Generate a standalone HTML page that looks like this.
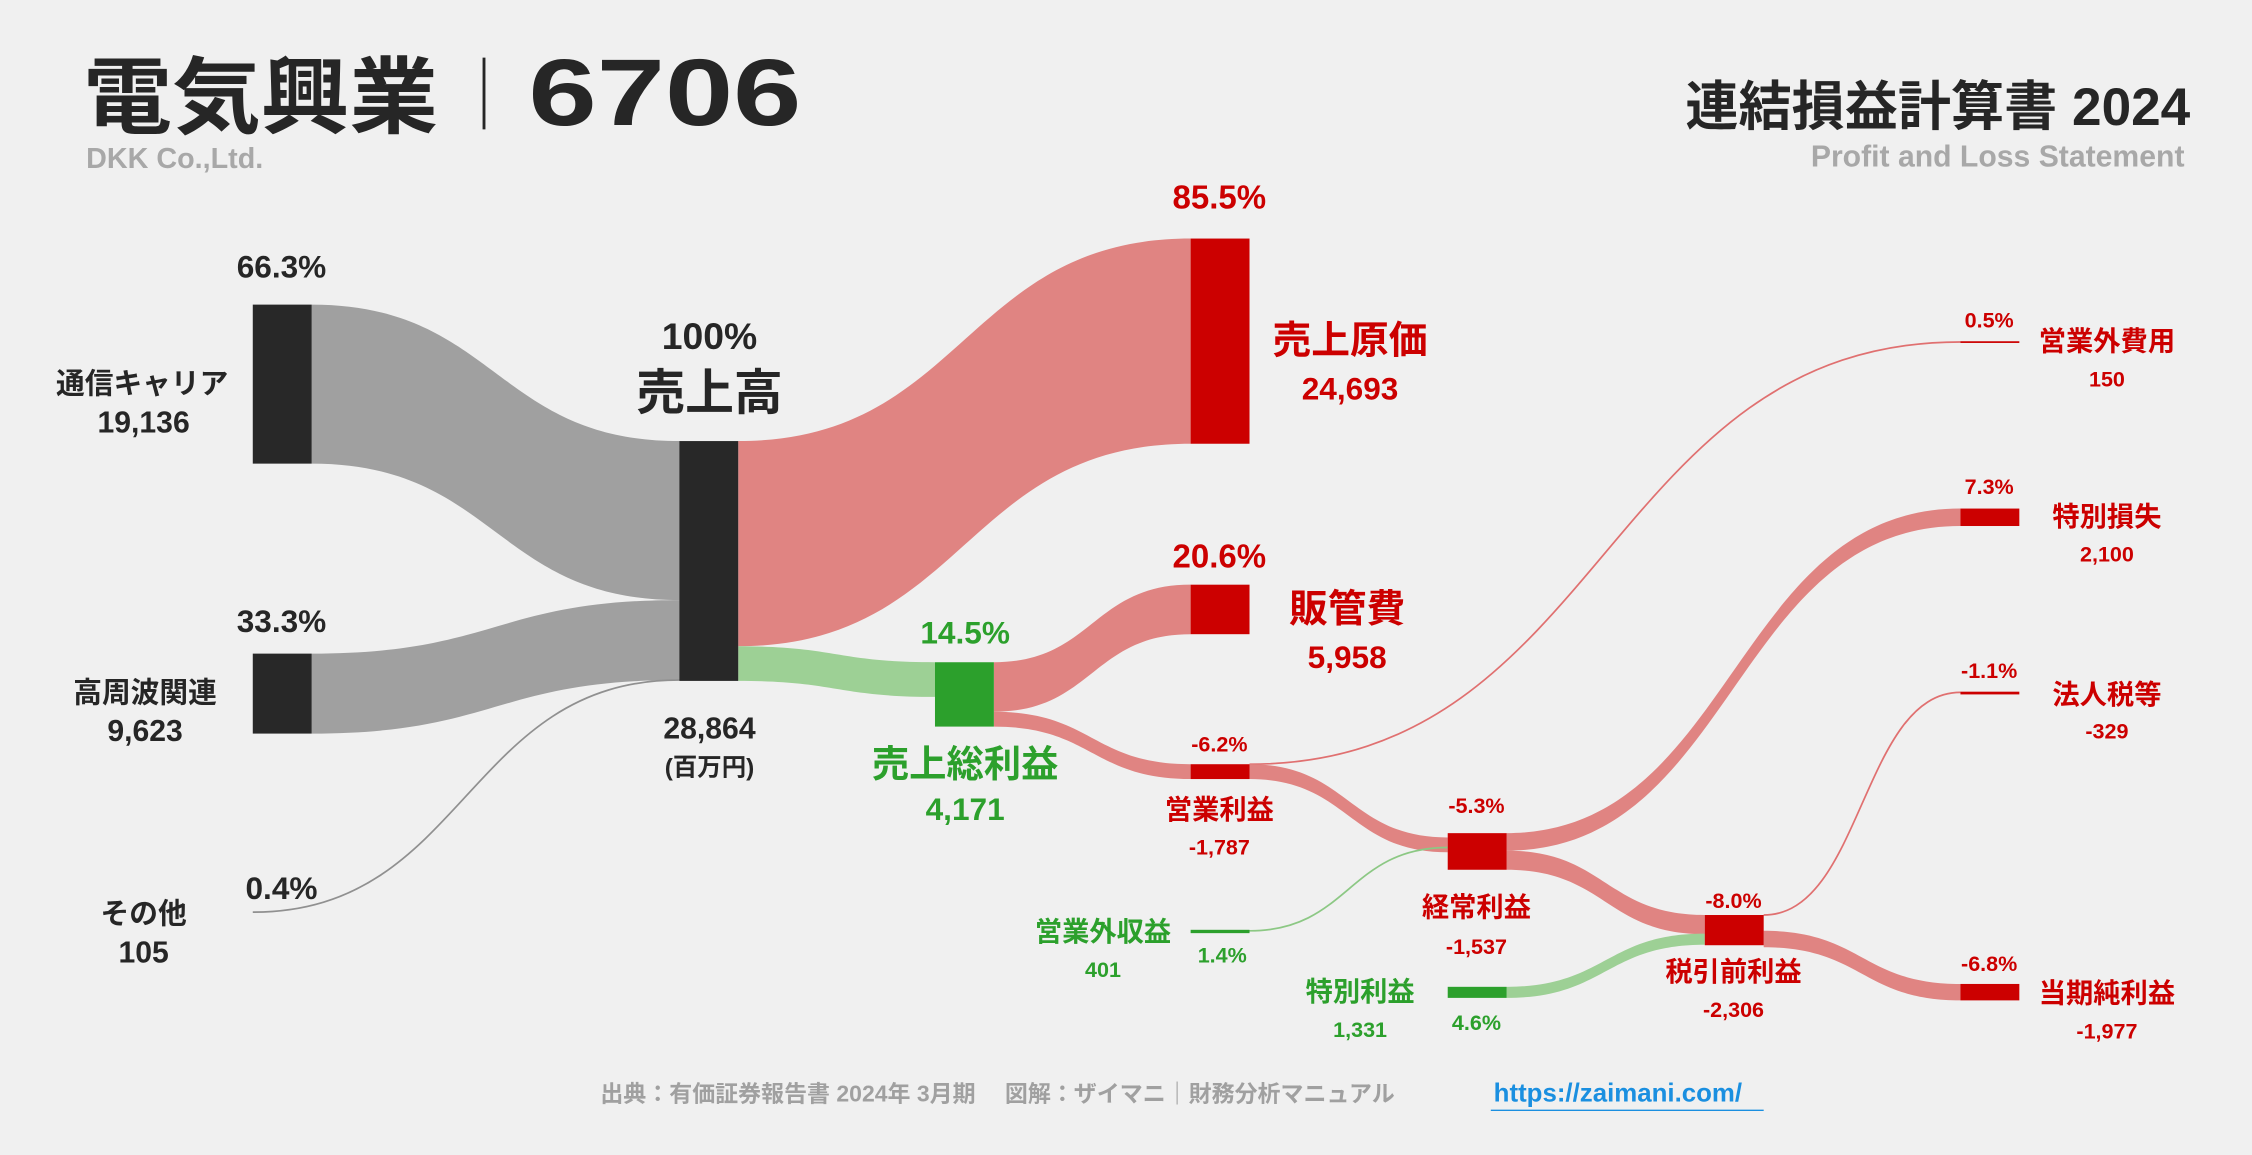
<!DOCTYPE html>
<html><head><meta charset="utf-8"><style>
html,body{margin:0;padding:0;background:#f0f0f0;}
svg{display:block;font-family:"Liberation Sans","Noto Sans CJK JP",sans-serif;}
</style></head><body>
<svg id="chart" width="2252" height="1155" viewBox="0 0 1568 804" xmlns="http://www.w3.org/2000/svg">
<rect width="1568" height="804" fill="#f0f0f0"/>
<g id="flows"></g>
<g id="nodes"></g>
<g font-weight="bold">
<text x="58" y="88" font-size="58" fill="#262626" textLength="247" lengthAdjust="spacingAndGlyphs">電気興業</text>
<line x1="337" y1="40" x2="337" y2="90" stroke="#262626" stroke-width="2"/>
<text x="368" y="87" font-size="66" fill="#262626" textLength="190" lengthAdjust="spacingAndGlyphs">6706</text>
<text x="60" y="117" font-size="20" fill="#a8a8a8">DKK Co.,Ltd.</text>
<text x="1525" y="87" font-size="37" fill="#262626" text-anchor="end">連結損益計算書 2024</text>
<text x="1521" y="116" font-size="21" fill="#a8a8a8" text-anchor="end">Profit and Loss Statement</text>
</g>
<g id="labels" font-weight="bold">
<text x="196" y="193" font-size="22" fill="#262626" text-anchor="middle">66.3%</text>
<text x="99" y="274" font-size="20" fill="#262626" text-anchor="middle">通信キャリア</text>
<text x="100" y="301" font-size="21" fill="#262626" text-anchor="middle">19,136</text>
<text x="196" y="440" font-size="22" fill="#262626" text-anchor="middle">33.3%</text>
<text x="101" y="489" font-size="20" fill="#262626" text-anchor="middle">高周波関連</text>
<text x="101" y="516" font-size="21" fill="#262626" text-anchor="middle">9,623</text>
<text x="196" y="626" font-size="22" fill="#262626" text-anchor="middle">0.4%</text>
<text x="100" y="643" font-size="20" fill="#262626" text-anchor="middle">その他</text>
<text x="100" y="670" font-size="21" fill="#262626" text-anchor="middle">105</text>
<text x="494" y="243" font-size="26" fill="#262626" text-anchor="middle">100%</text>
<text x="494" y="285" font-size="34" fill="#262626" text-anchor="middle">売上高</text>
<text x="494" y="514" font-size="21" fill="#262626" text-anchor="middle">28,864</text>
<text x="494" y="540" font-size="17" fill="#262626" text-anchor="middle">(百万円)</text>
<text x="849" y="145" font-size="23" fill="#cc0000" text-anchor="middle">85.5%</text>
<text x="940" y="246" font-size="27" fill="#cc0000" text-anchor="middle">売上原価</text>
<text x="940" y="278" font-size="22" fill="#cc0000" text-anchor="middle">24,693</text>
<text x="849" y="395" font-size="23" fill="#cc0000" text-anchor="middle">20.6%</text>
<text x="938" y="433" font-size="27" fill="#cc0000" text-anchor="middle">販管費</text>
<text x="938" y="465" font-size="22" fill="#cc0000" text-anchor="middle">5,958</text>
<text x="672" y="448" font-size="22" fill="#2ca02c" text-anchor="middle">14.5%</text>
<text x="672" y="541" font-size="26" fill="#2ca02c" text-anchor="middle">売上総利益</text>
<text x="672" y="571" font-size="22" fill="#2ca02c" text-anchor="middle">4,171</text>
<text x="849" y="523" font-size="15" fill="#cc0000" text-anchor="middle">-6.2%</text>
<text x="849" y="570" font-size="19" fill="#cc0000" text-anchor="middle">営業利益</text>
<text x="849" y="595" font-size="15" fill="#cc0000" text-anchor="middle">-1,787</text>
<text x="1028" y="566" font-size="15" fill="#cc0000" text-anchor="middle">-5.3%</text>
<text x="1028" y="638" font-size="19" fill="#cc0000" text-anchor="middle">経常利益</text>
<text x="1028" y="664" font-size="15" fill="#cc0000" text-anchor="middle">-1,537</text>
<text x="1207" y="632" font-size="15" fill="#cc0000" text-anchor="middle">-8.0%</text>
<text x="1207" y="683" font-size="19" fill="#cc0000" text-anchor="middle">税引前利益</text>
<text x="1207" y="708" font-size="15" fill="#cc0000" text-anchor="middle">-2,306</text>
<text x="768" y="655" font-size="19" fill="#2ca02c" text-anchor="middle">営業外収益</text>
<text x="768" y="680" font-size="15" fill="#2ca02c" text-anchor="middle">401</text>
<text x="851" y="670" font-size="15" fill="#2ca02c" text-anchor="middle">1.4%</text>
<text x="947" y="697" font-size="19" fill="#2ca02c" text-anchor="middle">特別利益</text>
<text x="947" y="722" font-size="15" fill="#2ca02c" text-anchor="middle">1,331</text>
<text x="1028" y="717" font-size="15" fill="#2ca02c" text-anchor="middle">4.6%</text>
<text x="1385" y="228" font-size="15" fill="#cc0000" text-anchor="middle">0.5%</text>
<text x="1467" y="244" font-size="19" fill="#cc0000" text-anchor="middle">営業外費用</text>
<text x="1467" y="269" font-size="15" fill="#cc0000" text-anchor="middle">150</text>
<text x="1385" y="344" font-size="15" fill="#cc0000" text-anchor="middle">7.3%</text>
<text x="1467" y="366" font-size="19" fill="#cc0000" text-anchor="middle">特別損失</text>
<text x="1467" y="391" font-size="15" fill="#cc0000" text-anchor="middle">2,100</text>
<text x="1385" y="472" font-size="15" fill="#cc0000" text-anchor="middle">-1.1%</text>
<text x="1467" y="490" font-size="19" fill="#cc0000" text-anchor="middle">法人税等</text>
<text x="1467" y="514" font-size="15" fill="#cc0000" text-anchor="middle">-329</text>
<text x="1385" y="676" font-size="15" fill="#cc0000" text-anchor="middle">-6.8%</text>
<text x="1467" y="698" font-size="19" fill="#cc0000" text-anchor="middle">当期純利益</text>
<text x="1467" y="723" font-size="15" fill="#cc0000" text-anchor="middle">-1,977</text>
</g>
<g font-weight="bold">
<text x="418" y="767" font-size="16" fill="#a0a0a0">出典：有価証券報告書 2024年 3月期　 図解：ザイマニ｜財務分析マニュアル</text>
<text x="1040" y="767" font-size="18" fill="#1a8fe0">https://zaimani.com/</text>
<line x1="1038" y1="773" x2="1228" y2="773" stroke="#1a8fe0" stroke-width="1"/>
</g>
<script>
const segNames=['通信キャリア','高周波関連','その他'];
const segValues=[19136,9623,105];
const revenue=28864;
const cogs=24693, grossProfit=4171, sga=5958, opLoss=1787;
const nonOpIncome=401, nonOpExpense=150, ordinaryLoss=1537;
const specialGain=1331, specialLoss=2100, pretaxLoss=2306, tax=329, netLoss=1977;
const K=167/revenue;
const NS='http://www.w3.org/2000/svg';
const flows=document.getElementById('flows'), nodes=document.getElementById('nodes');
function h(v){return Math.max(v*K,1.2);}
function band(name,x0,y0,x1,y1,v,color){
  const w=h(v),m=(x0+x1)/2;
  const p=document.createElementNS(NS,'path');
  p.setAttribute('d',`M${x0},${y0}C${m},${y0} ${m},${y1} ${x1},${y1}L${x1},${y1+w}C${m},${y1+w} ${m},${y0+w} ${x0},${y0+w}Z`);
  p.setAttribute('fill',color);
  
  
  flows.appendChild(p);
}
function line(name,x0,y0,x1,y1,color){
  const m=(x0+x1)/2;
  const p=document.createElementNS(NS,'path');
  p.setAttribute('d',`M${x0},${y0}C${m},${y0} ${m},${y1} ${x1},${y1}`);
  p.setAttribute('fill','none');p.setAttribute('stroke',color);p.setAttribute('stroke-width','1.2');
  
  
  flows.appendChild(p);
}
function node(name,x,y,v,color){
  const r=document.createElementNS(NS,'rect');
  r.setAttribute('x',x);r.setAttribute('y',y);r.setAttribute('width',41);r.setAttribute('height',h(v));
  r.setAttribute('fill',color);
  
  
  nodes.appendChild(r);
}
const G='#a0a0a0',R='#e08482',GR='#9dd095',DK='#282828',RD='#cc0000',GN='#2ca02c';
const segY=[212,455,635];
let ry=307;
segValues.forEach((v,i)=>{
  if(v*K>3){band('flow-segment-'+i,217,segY[i],473,ry,v,G);node('node-segment-'+i,176,segY[i],v,DK);}
  else{line('flow-segment-'+i,176,segY[i],473,ry,'#909090');}
  ry+=v*K;
});
node('node-revenue',473,307,revenue,DK);
band('flow-cogs',514,307,829,166,cogs,R);
node('node-cogs',829,166,cogs,RD);
band('flow-gross-profit',514,307+cogs*K,651,461,grossProfit,GR);
const gpTop=461;
band('flow-sga',692,gpTop,829,407,sga,R);
node('node-sga',829,407,sga,RD);
band('flow-op-loss',692,gpTop+sga*K,829,532,opLoss,R);
node('node-gross-profit',651,gpTop,sga+opLoss,GN);
node('node-op-loss',829,532,opLoss,RD);
line('flow-nonop-expense',870,532,1365,238,'#e07070');
node('node-nonop-expense',1365,237.5,nonOpExpense,RD);
const ordTop=580;
band('flow-ordinary',870,532,1008,ordTop+3,opLoss,R);
line('flow-nonop-income',870,648,1008,590,'#8cc884');
node('node-nonop-income',829,647.3,nonOpIncome,GN);
band('flow-special-loss',1049,ordTop,1365,354,specialLoss,R);
band('flow-pretax',1049,ordTop+specialLoss*K,1187,637,pretaxLoss,R);
node('node-ordinary',1008,ordTop,specialLoss+pretaxLoss,RD);
node('node-special-loss',1365,354,specialLoss,RD);
band('flow-special-gain',1049,687,1187,650,specialGain,GR);
node('node-special-gain',1008,687,specialGain,GN);
node('node-pretax',1187,637,pretaxLoss+specialGain,RD);
line('flow-tax',1228,637,1365,482,'#e07070');
node('node-tax',1365,481.5,tax,RD);
band('flow-net',1228,648,1365,685,netLoss,R);
node('node-net',1365,685,netLoss,RD);
</script>
</svg>
</body></html>
